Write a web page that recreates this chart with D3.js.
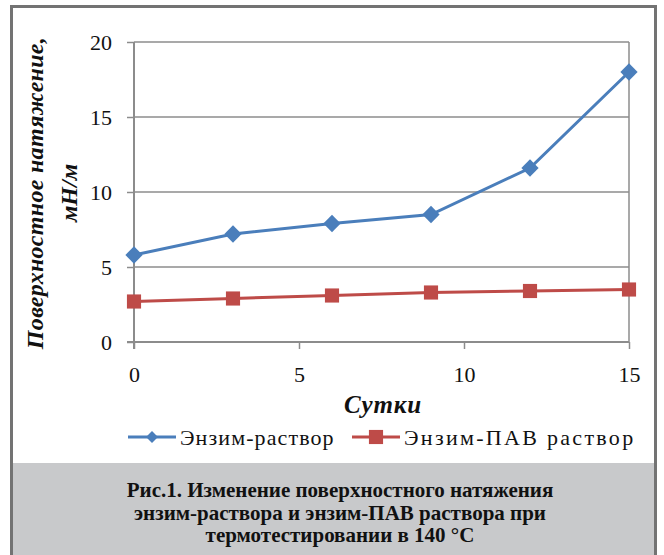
<!DOCTYPE html>
<html>
<head>
<meta charset="utf-8">
<script src="https://cdn.jsdelivr.net/npm/d3@7"></script>
<style>
  body { margin: 0; background: #fff; }
  text { font-family: "Liberation Serif", "DejaVu Serif", serif; fill: #111; }
</style>
</head>
<body>
<div id="wrapper"></div>
<script>
// data
const days = [0, 3, 6, 9, 12, 15]
const enzymeSolution = [5.8, 7.2, 7.9, 8.5, 11.6, 18.0]
const enzymeSurfactant = [2.7, 2.9, 3.1, 3.3, 3.4, 3.5]
const xTicks = [0, 5, 10, 15]
const yTicks = [0, 5, 10, 15, 20]
const seriesNames = ["Энзим-раствор", "Энзим-ПАВ раствор"]
const captionLines = [
  "Рис.1. Изменение поверхностного натяжения",
  "энзим-раствора и энзим-ПАВ раствора при",
  "термотестировании в 140 °С",
]

const width = 664
const height = 555
const margin = { top: 42, right: 35, bottom: 213, left: 134 }
const boundedWidth = width - margin.left - margin.right
const boundedHeight = height - margin.top - margin.bottom

const svg = d3.select("#wrapper").append("svg")
    .attr("width", width)
    .attr("height", height)

// caption panel
svg.append("rect")
    .attr("x", 10).attr("y", 463)
    .attr("width", 647).attr("height", 92)
    .attr("fill", "#c8c9cb")

// outer frame
svg.append("path")
    .attr("d", `M11.5,${height} V6.5 H655.5 V${height}`)
    .attr("fill", "none")
    .attr("stroke", "#737373")
    .attr("stroke-width", 3)

const bounds = svg.append("g")
    .attr("transform", `translate(${margin.left},${margin.top})`)

const xScale = d3.scaleLinear().domain([0, 15]).range([0, boundedWidth])
const yScale = d3.scaleLinear().domain([0, 20]).range([boundedHeight, 0])

// grid
bounds.append("g")
  .selectAll("line")
  .data(yTicks.filter(d => d > 0))
  .join("line")
    .attr("x1", 0).attr("x2", boundedWidth)
    .attr("y1", d => yScale(d)).attr("y2", d => yScale(d))
    .attr("stroke", "#8c8c8c").attr("stroke-width", 1.5)

bounds.append("line")
    .attr("x1", boundedWidth).attr("x2", boundedWidth)
    .attr("y1", 0).attr("y2", boundedHeight)
    .attr("stroke", "#8c8c8c").attr("stroke-width", 1.5)

// axes
const yAxis = bounds.append("g")
    .call(d3.axisLeft(yScale).tickValues(yTicks).tickSize(7).tickPadding(15))
const xAxis = bounds.append("g")
    .attr("transform", `translate(0,${boundedHeight})`)
    .call(d3.axisBottom(xScale).tickValues(xTicks).tickSize(7).tickPadding(17))

;[xAxis, yAxis].forEach(ax => {
  ax.select(".domain").remove()
  ax.selectAll("line").attr("stroke", "#8c8c8c").attr("stroke-width", 1.5)
  ax.selectAll("text").attr("font-size", 22).attr("fill", "#111")
    .style("font-family", '"Liberation Serif", serif')
})
bounds.append("line")
    .attr("x1", 0).attr("x2", 0).attr("y1", 0).attr("y2", boundedHeight + 7)
    .attr("stroke", "#8c8c8c").attr("stroke-width", 2)
bounds.append("line")
    .attr("x1", -7).attr("x2", boundedWidth).attr("y1", boundedHeight).attr("y2", boundedHeight)
    .attr("stroke", "#8c8c8c").attr("stroke-width", 2)

// lines
const series = [
  { name: seriesNames[0], values: enzymeSolution, color: "#4a7ebb", symbol: d3.symbolDiamond2, size: 190 },
  { name: seriesNames[1], values: enzymeSurfactant, color: "#be4b48", symbol: d3.symbolSquare, size: 200 },
]

const lineGenerator = d3.line()
    .x((d, i) => xScale(days[i]))
    .y(d => yScale(d))

series.forEach(s => {
  bounds.append("path")
      .attr("d", lineGenerator(s.values))
      .attr("fill", "none")
      .attr("stroke", s.color)
      .attr("stroke-width", 3)
  bounds.selectAll(null)
    .data(s.values)
    .join("path")
      .attr("transform", (d, i) => `translate(${xScale(days[i])},${yScale(d)})`)
      .attr("d", d3.symbol(s.symbol, s.size))
      .attr("fill", s.color)
})

// axis titles
svg.append("text")
    .attr("transform", "translate(43,193) rotate(-90)")
    .attr("text-anchor", "middle")
    .attr("font-size", 24).attr("font-weight", "bold").attr("font-style", "italic")
    .attr("letter-spacing", 0.3)
    .text("Поверхностное натяжение,")
svg.append("text")
    .attr("transform", "translate(77,193) rotate(-90)")
    .attr("text-anchor", "middle")
    .attr("font-size", 24).attr("font-weight", "bold").attr("font-style", "italic")
    .text("мН/м")
svg.append("text")
    .attr("x", 383).attr("y", 413)
    .attr("text-anchor", "middle")
    .attr("font-size", 25).attr("font-weight", "bold").attr("font-style", "italic")
    .attr("letter-spacing", 0.8)
    .text("Сутки")

// legend
const legendX = [128, 352]
const legendSpacing = [1.1, 2.3]
series.forEach((s, i) => {
  const g = svg.append("g").attr("transform", `translate(${legendX[i]},437)`)
  g.append("line").attr("x1", 0).attr("x2", 48)
      .attr("stroke", s.color).attr("stroke-width", 3)
  g.append("path")
      .attr("transform", "translate(24,0)")
      .attr("d", d3.symbol(s.symbol, i === 0 ? 90 : 200))
      .attr("fill", s.color)
  g.append("text").attr("x", 52).attr("y", 8)
      .attr("font-size", 22)
      .attr("letter-spacing", legendSpacing[i])
      .text(s.name)
})

// caption
svg.append("g").selectAll("text")
  .data(captionLines)
  .join("text")
    .attr("x", 340)
    .attr("y", (d, i) => 497 + i * 22.5)
    .attr("text-anchor", "middle")
    .attr("font-size", 21).attr("font-weight", "bold")
    .text(d => d)
</script>
</body>
</html>
